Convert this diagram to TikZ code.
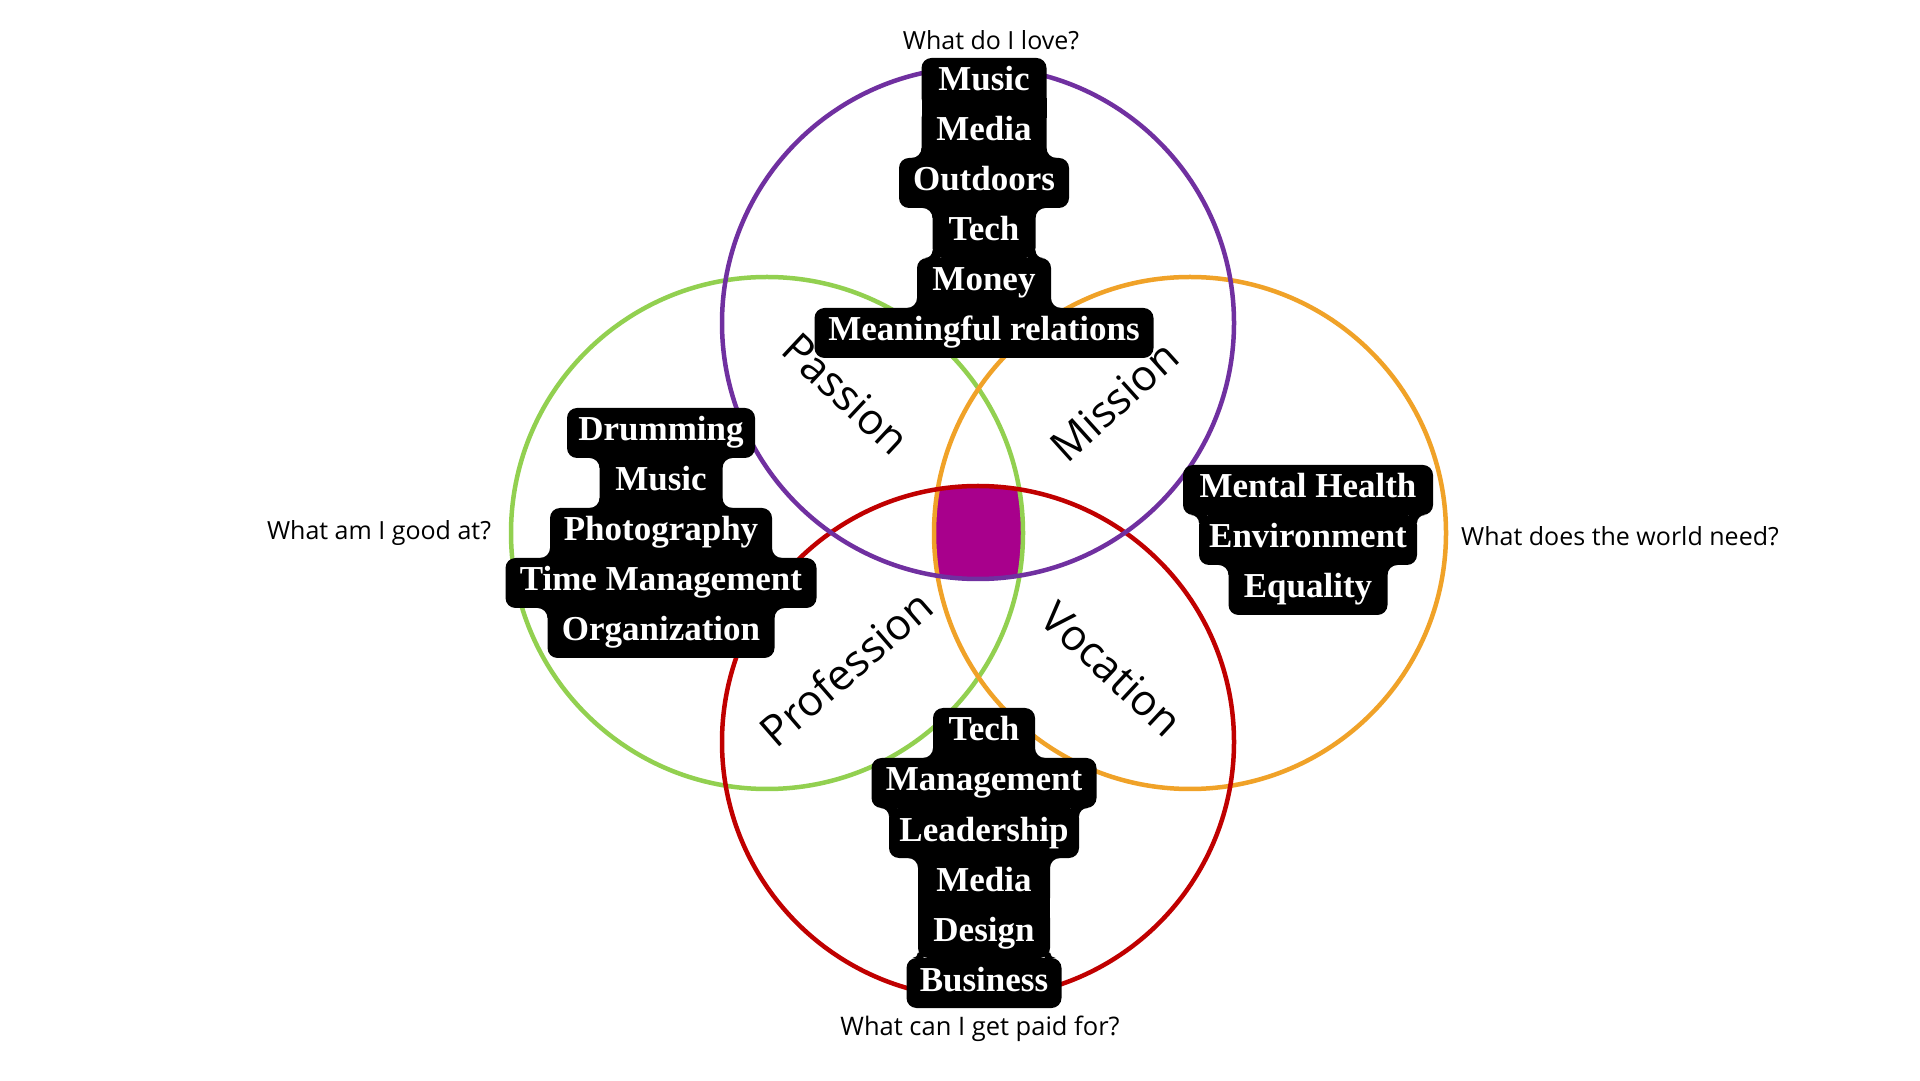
\documentclass[tikz,border=0pt]{standalone}
\usepackage{fontspec}
\newfontfamily\boxfont{Liberation Serif}
\newfontfamily\lblfont{Open Sans}
\definecolor{cpurple}{RGB}{112,48,160}
\definecolor{cgreen}{RGB}{146,208,80}
\definecolor{corange}{RGB}{240,162,40}
\definecolor{cred}{RGB}{192,0,0}
\definecolor{cmag}{RGB}{168,0,140}
% fillet: narrow node #1, junction at its south, radius #2
\newcommand{\filS}[2]{%
 \fill ([xshift=-#2]#1.south east) -- ([xshift=#2]#1.south east) arc[start angle=270,end angle=180,radius=#2] -- ([xshift=-#2,yshift=#2]#1.south east) -- cycle;
 \fill ([xshift=#2]#1.south west) -- ([xshift=-#2]#1.south west) arc[start angle=270,end angle=360,radius=#2] -- ([xshift=#2,yshift=#2]#1.south west) -- cycle;}
% fillet: narrow node #1, junction at its north, radius #2
\newcommand{\filN}[2]{%
 \fill ([xshift=-#2]#1.north east) -- ([xshift=#2]#1.north east) arc[start angle=90,end angle=180,radius=#2] -- ([xshift=-#2,yshift=-#2]#1.north east) -- cycle;
 \fill ([xshift=#2]#1.north west) -- ([xshift=-#2]#1.north west) arc[start angle=90,end angle=0,radius=#2] -- ([xshift=#2,yshift=-#2]#1.north west) -- cycle;}
% equal widths: square the corners at the south of #1
\newcommand{\filE}[1]{%
 \fill ([xshift=-10,yshift=-10]#1.south east) rectangle ([yshift=10]#1.south east);
 \fill ([yshift=-10]#1.south west) rectangle ([xshift=10,yshift=10]#1.south west);}
\tikzset{
 ring/.style={line width=4.5pt},
 lb/.style={fill=black, text=white, rounded corners=10pt, inner xsep=0pt, inner ysep=0pt,
   outer sep=0pt, minimum height=50pt, text height=25pt, text depth=9pt,
   font=\boxfont\bfseries\fontsize{35}{40}\selectfont},
 question/.style={font=\lblfont\fontsize{25}{30}\selectfont, inner sep=0pt},
 diag/.style={font=\lblfont\fontsize{43}{50}\selectfont, inner sep=0pt}
}
\begin{document}
\begin{tikzpicture}[x=1pt,y=1pt]
\useasboundingbox (0,0) rectangle (1920,1080);
\fill[white] (0,0) rectangle (1920,1080);
\coordinate (cP) at (978,757);
\coordinate (cG) at (767,547);
\coordinate (cO) at (1190,547);
\coordinate (cR) at (978,338);
% centre intersection
\begin{scope}
 \clip (cP) circle[radius=256];
 \clip (cG) circle[radius=256];
 \clip (cO) circle[radius=256];
 \fill[cmag] (cR) circle[radius=256];
\end{scope}
\draw[ring,cgreen] (cG) circle[radius=256];
\draw[ring,corange] (cO) circle[radius=256];
\draw[ring,cred] (cR) circle[radius=256];
\draw[ring,cpurple] (cP) circle[radius=256];

% top box
\node[lb,minimum width=125] (tMusic) at (984,997) {Music};
\node[lb,minimum width=125] (tMedia) at (984,947) {Media};
\node[lb,minimum width=170] (tOut) at (984,897) {Outdoors};
\node[lb,minimum width=103] (tTech) at (984,847) {Tech};
\node[lb,minimum width=134] (tMoney) at (984,797) {Money};
\node[lb,minimum width=339] (tMean) at (984,747) {Meaningful relations};
\filE{tMusic}
\filS{tMedia}{10}
\filN{tTech}{10}
\filS{tTech}{7.5}
\filS{tMoney}{10}

% left box
\node[lb,minimum width=188] (lDrum) at (661,647) {Drumming};
\node[lb,minimum width=123] (lMusic) at (661,597) {Music};
\node[lb,minimum width=222] (lPhoto) at (661,547) {Photography};
\node[lb,minimum width=311] (lTime) at (661,497) {Time Management};
\node[lb,minimum width=227] (lOrg) at (661,447) {Organization};
\filN{lMusic}{10}
\filS{lMusic}{10}
\filS{lPhoto}{10}
\filN{lOrg}{10}

% right box
\node[lb,minimum width=250] (rMent) at (1308,590) {Mental Health};
\node[lb,minimum width=218] (rEnv) at (1308,540) {Environment};
\node[lb,minimum width=159] (rEq) at (1308,490) {Equality};
\filN{rEnv}{8}
\filN{rEq}{10}

% bottom box
\node[lb,minimum width=102] (bTech) at (984,347) {Tech};
\node[lb,minimum width=225] (bMan) at (984,297) {Management};
\node[lb,minimum width=190] (bLead) at (984,247) {Leadership};
\node[lb,minimum width=132] (bMedia) at (984,197) {Media};
\node[lb,minimum width=132] (bDesign) at (984,147) {Design};
\node[lb,minimum width=155] (bBus) at (984,97) {Business};
\filS{bTech}{10}
\filN{bLead}{8.5}
\filN{bMedia}{10}
\filE{bMedia}
\filS{bDesign}{5.5}

% questions
\node[question] (qLove) at (991,1040) {What do I love?};
\node[question] (qGood) at (379,547) {What am I good at?};
\node[question] (qNeed) at (1620,544) {What does the world need?};
\node[question,font=\lblfont\fontsize{25.5}{30}\selectfont] (qPaid) at (980,51) {What can I get paid for?};

% diagonal labels
\node[diag,rotate=-43] (lPassion) at (846,686) {Passion};
\node[diag,rotate=42] (lMission) at (1114,679) {Mission};
\node[diag,rotate=41] (lProf) at (846,412) {Profession};
\node[diag,rotate=-43] (lVoc) at (1112,411) {Vocation};
\end{tikzpicture}
\end{document}
